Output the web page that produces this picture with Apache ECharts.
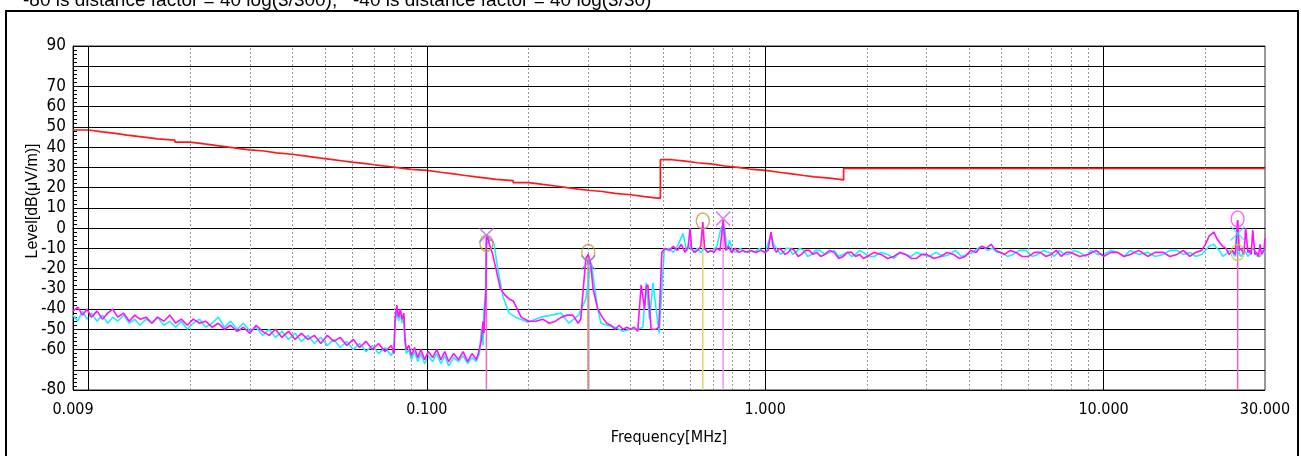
<!DOCTYPE html>
<html><head><meta charset="utf-8">
<script src="https://cdn.jsdelivr.net/npm/echarts@6/dist/echarts.min.js"></script>
<style>html,body{margin:0;padding:0;background:#fff}#c{width:1301px;height:456px}</style>
</head><body><div id="c"></div>
<script>
const noteText = '-80 is distance factor = 40 log(3/300);   -40 is distance factor = 40 log(3/30)';
const xName = 'Frequency[MHz]';
const yName = 'Level[dB(\u03bcV/m)]';
const xTickValues = [0.009, 0.1, 1, 10, 30];
const xTickLabels = ['0.009', '0.100', '1.000', '10.000', '30.000'];
const xMajorGrid = [0.01, 0.1, 1, 10];
const xMinorGrid = [0.02,0.03,0.04,0.05,0.06,0.07,0.08,0.09,0.2,0.3,0.4,0.5,0.6,0.7,0.8,0.9,2,3,4,5,6,7,8,9,20];
const yLabelValues = [90,70,60,50,40,30,20,10,0,-10,-20,-30,-40,-50,-60,-80];

const limitLine = [
[0.009,48.5],[0.010,47.6],[0.011,46.8],[0.012,46.0],[0.013,45.3],[0.014,44.7],[0.015,44.1],[0.016,43.5],
[0.018,42.5],[0.020,41.6],[0.022,40.8],[0.024,40.0],[0.026,39.3],[0.028,38.7],[0.030,38.1],[0.033,37.2],
[0.036,36.5],[0.040,35.6],[0.044,34.7],[0.048,34.0],[0.052,33.3],[0.056,32.6],[0.060,32.0],[0.065,31.3],
[0.070,30.7],[0.075,30.1],[0.080,29.5],[0.085,29.0],[0.090,28.5],[0.100,27.6],[0.110,26.8],[0.120,26.0],
[0.130,25.3],[0.140,24.7],[0.150,24.1],[0.160,23.5],[0.180,22.5],[0.200,21.6],[0.220,20.8],[0.240,20.0],
[0.260,19.3],[0.280,18.7],[0.300,18.1],[0.330,17.2],[0.360,16.5],[0.400,15.6],[0.440,14.7],[0.490,13.8],
[0.490,33.8],[0.530,33.1],[0.580,32.3],[0.630,31.6],[0.700,30.7],[0.760,30.0],[0.830,29.2],[0.900,28.5],
[1.000,27.6],[1.100,26.8],[1.200,26.0],[1.300,25.3],[1.400,24.7],[1.550,23.8],[1.705,23.0],[1.705,29.5],[30,29.5]
];

const traceCyan = [
[0.0090,-43],[0.0093,-46],[0.0096,-41],[0.0099,-45],[0.0102,-42],[0.0106,-46],[0.0110,-43],[0.0114,-47],
[0.0118,-44],[0.0122,-46],[0.0127,-43],[0.0132,-47],[0.0137,-45],[0.0142,-48],[0.0148,-45],[0.0154,-47],
[0.0160,-44],[0.0167,-48],[0.0174,-46],[0.0181,-49],[0.0188,-46],[0.0196,-50],[0.0204,-47],[0.0213,-45],
[0.0222,-49],[0.0232,-47],[0.0242,-44],[0.0252,-49],[0.0263,-46],[0.0275,-50],[0.0287,-47],[0.0300,-51],
[0.0313,-49],[0.0327,-53],[0.0342,-50],[0.0357,-54],[0.0373,-51],[0.0390,-55],[0.0408,-52],[0.0426,-56],
[0.0445,-53],[0.0465,-57],[0.0486,-54],[0.0508,-58],[0.0531,-55],[0.0555,-59],[0.0580,-56],[0.0606,-60],
[0.0633,-57],[0.0661,-61],[0.0690,-58],[0.0720,-62],[0.0752,-59],[0.0785,-63],[0.0800,-60],[0.0805,-47],
[0.0815,-41],[0.0825,-46],[0.0835,-42],[0.0845,-47],[0.0855,-44],[0.0862,-57],[0.0870,-62],[0.0885,-60],
[0.0900,-65],[0.0920,-61],[0.0940,-66],[0.0960,-62],[0.0985,-67],[0.1010,-63],[0.1040,-66],[0.1070,-62],
[0.1100,-67],[0.1130,-63],[0.1160,-68],[0.1200,-64],[0.1240,-66],[0.1280,-63],[0.1320,-67],[0.1360,-64],
[0.1400,-66],[0.1430,-62],[0.1450,-50],[0.1465,-58],[0.1475,-40],[0.1485,-36],[0.1495,-30],[0.1500,-8],
[0.1530,-6],[0.1560,-6],[0.1580,-8],[0.1620,-20],[0.1680,-34],[0.1750,-42],[0.1830,-44],[0.1990,-46.5],
[0.2170,-44],[0.2330,-43],[0.2490,-42],[0.2630,-47],[0.2810,-43],[0.2950,-35],[0.3000,-26],[0.3060,-17],
[0.3120,-27],[0.3200,-40],[0.3270,-47],[0.3400,-48],[0.3600,-49],[0.3800,-51],[0.4000,-50],[0.4200,-50],
[0.4350,-49],[0.4450,-27],[0.4550,-45],[0.4660,-27],[0.4760,-40],[0.4860,-52],[0.5030,-11],[0.5200,-10],
[0.5350,-12],[0.5500,-9],[0.5720,-2.6],[0.5850,-11],[0.6000,-9],[0.6150,-12],[0.6300,-10],[0.6450,-12],
[0.6600,-10],[0.6800,-12],[0.7000,-11],[0.7200,-9],[0.7400,0],[0.7510,1.4],[0.7600,-1],[0.7700,-11],
[0.7850,-6],[0.8000,-11],[0.8200,-12],[0.8450,-10],[0.8700,-12],[0.9000,-11],[0.9300,-12],[0.9600,-10],
[1.000,-12],[1.040,-3],[1.060,-8],[1.090,-11],[1.110,-13],[1.130,-12],[1.155,-10],[1.180,-10],[1.205,-13],
[1.230,-12],[1.265,-10],[1.300,-11],[1.335,-14],[1.370,-13],[1.410,-11],[1.450,-11],[1.500,-13],[1.550,-12],
[1.600,-11],[1.650,-14],[1.700,-13],[1.750,-12],[1.800,-14],[1.850,-13],[1.900,-11],[1.950,-12],[2.020,-14],
[2.100,-14],[2.200,-12],[2.300,-13],[2.400,-15],[2.500,-12],[2.600,-13],[2.700,-14],[2.800,-12],[2.900,-13],
[3.050,-14],[3.200,-12],[3.350,-14],[3.500,-13],[3.650,-11],[3.800,-14],[3.950,-13],[4.100,-12],[4.250,-10],
[4.400,-9],[4.550,-11],[4.700,-10],[4.850,-12],[5.000,-12],[5.200,-14],[5.400,-13],[5.650,-11],[5.900,-11],
[6.150,-14],[6.400,-13],[6.650,-11],[6.900,-12],[7.150,-14],[7.400,-11],[7.650,-13],[7.900,-13],[8.200,-11],
[8.500,-12],[8.850,-14],[9.200,-11],[9.600,-13],[10.00,-13],[10.50,-11],[11.00,-12],[11.50,-14],[12.00,-11],
[12.70,-13],[13.50,-12],[14.20,-14],[15.00,-13],[15.70,-11],[16.50,-11],[17.20,-13],[18.00,-12],[18.70,-14],
[19.50,-13],[20.00,-11],[20.50,-9],[21.20,-8],[21.600,-10],[22.00,-11],[22.50,-14],[23.00,-13],[23.50,-11],
[24.00,-12],[24.50,-14],[24.90,-3],[25.20,-13],[25.50,-14],[26.00,-11],[26.30,-12],[26.70,-14],[27.00,-13],
[27.50,-10],[28.00,-11],[28.50,-14],[29.00,-14],[29.50,-11],[30.00,-12]
];

const traceMagenta = [
[0.0090,-41],[0.0093,-39],[0.0096,-43],[0.0099,-40],[0.0102,-44],[0.0106,-41],[0.0110,-45],[0.0114,-42],
[0.0118,-40],[0.0122,-44],[0.0127,-42],[0.0132,-46],[0.0137,-43],[0.0142,-45],[0.0148,-44],[0.0154,-47],
[0.0160,-44],[0.0167,-46],[0.0174,-43],[0.0181,-47],[0.0188,-45],[0.0196,-48],[0.0204,-45],[0.0213,-47],
[0.0222,-46],[0.0232,-49],[0.0242,-47],[0.0252,-50],[0.0263,-48],[0.0275,-51],[0.0287,-49],[0.0300,-52],
[0.0313,-48],[0.0327,-51],[0.0342,-53],[0.0357,-50],[0.0373,-54],[0.0390,-51],[0.0408,-55],[0.0426,-52],
[0.0445,-55],[0.0465,-53],[0.0486,-57],[0.0508,-53],[0.0531,-56],[0.0555,-54],[0.0580,-58],[0.0606,-55],
[0.0633,-59],[0.0661,-56],[0.0690,-60],[0.0720,-57],[0.0752,-61],[0.0785,-58],[0.0800,-62],[0.0805,-46],
[0.0815,-38],[0.0825,-44],[0.0835,-40],[0.0845,-45],[0.0855,-42],[0.0862,-55],[0.0870,-60],[0.0885,-58],
[0.0900,-63],[0.0920,-59],[0.0940,-64],[0.0960,-60],[0.0985,-65],[0.1010,-61],[0.1040,-64],[0.1070,-60],
[0.1100,-65],[0.1130,-61],[0.1160,-66],[0.1200,-62],[0.1240,-65],[0.1280,-61],[0.1320,-66],[0.1360,-62],
[0.1400,-65],[0.1430,-60],[0.1450,-55],[0.1465,-46],[0.1475,-52],[0.1485,-40],[0.1495,-30],[0.1500,-5],
[0.1510,-4],[0.1530,-8],[0.1560,-12],[0.1600,-20],[0.1650,-30],[0.1700,-33],[0.1750,-35],[0.1800,-36],
[0.1850,-40],[0.1900,-44],[0.1950,-45],[0.2000,-46],[0.2100,-46],[0.2200,-45],[0.2300,-47],[0.2400,-46],
[0.2500,-44],[0.2600,-43],[0.2700,-43],[0.2800,-47],[0.2850,-45],[0.2900,-30],[0.2950,-15],[0.3000,-13],
[0.3050,-18],[0.3100,-30],[0.3200,-40],[0.3300,-44],[0.3400,-47],[0.3500,-48],[0.3600,-50],[0.3700,-48],
[0.3800,-50],[0.3900,-49],[0.4000,-50],[0.4100,-49],[0.4200,-51],[0.4300,-28],[0.4350,-28],[0.4400,-40],
[0.4450,-29],[0.4500,-28],[0.4600,-50],[0.4750,-50],[0.4850,-49],[0.4950,-12],[0.5050,-10],[0.5200,-11],
[0.5350,-9],[0.5500,-11],[0.5650,-8],[0.5800,-12],[0.5920,-9],[0.6000,0],[0.6060,-10],[0.6180,-12],
[0.6320,-11],[0.6450,-9],[0.6540,3],[0.6620,-10],[0.6750,-12],[0.6900,-11],[0.7050,-12],[0.7200,-10],
[0.7350,-11],[0.7450,-2],[0.7510,4],[0.7570,-3],[0.7650,-11],[0.7800,-9],[0.7950,-12],[0.8150,-10],
[0.8350,-12],[0.8600,-11],[0.8850,-12],[0.9100,-11],[0.9400,-12],[0.9700,-11],[1.000,-12],[1.020,-11],
[1.040,-2],[1.055,-9],[1.080,-12],[1.100,-10],[1.120,-11],[1.145,-13],[1.170,-12],[1.195,-10],[1.220,-11],
[1.250,-14],[1.280,-13],[1.315,-11],[1.350,-11],[1.385,-13],[1.420,-12],[1.460,-14],[1.500,-13],[1.550,-11],
[1.600,-12],[1.650,-15],[1.700,-14],[1.750,-12],[1.800,-12],[1.850,-14],[1.900,-13],[1.950,-15],[2.000,-14],
[2.100,-12],[2.200,-13],[2.300,-15],[2.400,-14],[2.500,-12],[2.600,-13],[2.700,-15],[2.800,-15],[2.900,-13],
[3.000,-13],[3.150,-15],[3.300,-14],[3.450,-12],[3.600,-13],[3.750,-15],[3.900,-14],[4.050,-11],[4.200,-12],
[4.350,-9],[4.500,-10],[4.650,-8],[4.800,-11],[4.950,-12],[5.100,-13],[5.300,-11],[5.500,-12],[5.750,-14],
[6.000,-14],[6.250,-12],[6.500,-12],[6.750,-14],[7.000,-13],[7.250,-11],[7.500,-14],[7.750,-12],[8.000,-12],
[8.500,-14],[9.000,-13],[9.500,-11],[10.00,-14],[10.50,-12],[11.00,-12],[11.50,-14],[12.00,-13],[12.70,-11],
[13.50,-14],[14.20,-12],[15.00,-12],[15.70,-14],[16.50,-13],[17.20,-11],[18.00,-14],[18.70,-12],[19.50,-11],
[20.00,-8],[20.50,-4],[21.20,-2],[21.60,-5],[22.00,-7],[22.50,-9],[23.00,-10],[23.50,-13],[24.00,-11],
[24.50,-13],[24.90,4],[25.20,-11],[25.50,-10],[26.00,-13],[26.30,0],[26.70,-12],[27.00,-11],[27.30,-13],
[27.60,-1],[28.00,-13],[28.30,-12],[28.70,-14],[29.00,-8],[29.30,-13],[29.50,-13],[29.80,-11],[30.00,-5]
];

const peakCircles = [[0.15,-7.5],[0.3,-12],[0.654,3.5],[24.9,-12],[24.9,4.5]];
const peakCrosses = [[0.15,-3.5],[0.3,-17],[0.751,4.7],[24.9,-2.7]];
const markerLines = [[0.15,-5],[0.299,-13],[0.301,-15],[0.654,3],[0.751,4],[24.9,4]];

const circleColors = ['#c8963c','#c8963c','#c8963c','#d4cc30','#ff40ff'];
const crossColors = ['#c060f0','#7a7aff','#d060f0','#40d8f0'];
const markerLineColors = ['#e070c8','#d8b070','#f080c0','#d8d870','#f090f0','#f060c0'];

const narrow = "'Liberation Sans Narrow','DejaVu Sans Condensed',sans-serif";
const chart = echarts.init(document.getElementById('c'), null, {renderer: 'canvas'});

function nearestLabel(v) {
  let best = 0, bd = Infinity;
  xTickValues.forEach((t, i) => { const d = Math.abs(Math.log10(v) - Math.log10(t)); if (d < bd) { bd = d; best = i; } });
  return bd < 0.01 ? xTickLabels[best] : '';
}

const series = [];
series.push({
  type: 'line', data: [], silent: true,
  markLine: {
    silent: true, symbol: 'none', animation: false, label: {show: false},
    lineStyle: {color: '#999', width: 1, type: [2, 2]},
    data: xMinorGrid.map(v => ({xAxis: v}))
  }
});
series.push({
  type: 'line', data: [], silent: true,
  markLine: {
    silent: true, symbol: 'none', animation: false, label: {show: false},
    lineStyle: {color: '#000', width: 1, type: 'solid'},
    data: xMajorGrid.map(v => ({xAxis: v}))
  }
});
series.push({
  type: 'line', data: limitLine, step: 'end', showSymbol: false, silent: true,
  lineStyle: {color: '#ff1a1a', width: 1.7}, z: 3
});
markerLines.forEach((m, i) => {
  series.push({
    type: 'line', data: [[m[0], m[1]], [m[0], -80]], showSymbol: false, silent: true,
    lineStyle: {color: markerLineColors[i], width: 1.5}, z: 2
  });
});
series.push({
  type: 'line', data: traceCyan, showSymbol: false, silent: true,
  lineStyle: {color: '#18f0ff', width: 1.6}, z: 4
});
series.push({
  type: 'line', data: traceMagenta, showSymbol: false, silent: true,
  lineStyle: {color: '#ff10ff', width: 1.6}, z: 5
});
series.push({
  type: 'scatter', silent: true, z: 6, symbol: 'circle', symbolSize: [13, 16],
  data: peakCircles.map((p, i) => ({value: p, itemStyle: {color: 'rgba(0,0,0,0)', borderColor: circleColors[i], borderWidth: 1.5}}))
});
series.push({
  type: 'scatter', silent: true, z: 6, symbol: 'path://M0 0L10 10M10 0L0 10', symbolSize: 14,
  data: peakCrosses.map((p, i) => ({value: p, itemStyle: {color: 'rgba(0,0,0,0)', borderColor: crossColors[i], borderWidth: 1.5}}))
});

chart.setOption({
  animation: false,
  backgroundColor: '#fff',
  graphic: [
    {type: 'rect', shape: {x: 6, y: 11, width: 1292, height: 470}, style: {fill: 'none', stroke: '#000', lineWidth: 2}, silent: true},
    {type: 'text', x: 23, y: 10, style: {text: noteText, font: "19px 'Liberation Sans',Arial,sans-serif", fill: '#000', verticalAlign: 'bottom', align: 'left'}, silent: true}
  ],
  grid: {left: 73, right: 36, top: 46, bottom: 66, show: true, borderColor: '#333', borderWidth: 1, containLabel: false},
  xAxis: {
    type: 'log', logBase: 10, min: 0.009, max: 30,
    name: xName, nameLocation: 'middle', nameGap: 40, nameMoveOverlap: false,
    nameTextStyle: {fontFamily: narrow, fontSize: 16, color: '#000'},
    axisLine: {show: true, lineStyle: {color: '#000', width: 1}},
    axisTick: {show: false},
    splitLine: {show: false},
    minorSplitLine: {show: false},
    axisLabel: {
      customValues: xTickValues,
      formatter: v => nearestLabel(v),
      fontFamily: narrow, fontSize: 16, color: '#000', margin: 12,
      showMinLabel: true, showMaxLabel: true
    }
  },
  yAxis: {
    type: 'value', min: -80, max: 90, interval: 10,
    name: yName, nameLocation: 'middle', nameGap: 32, nameMoveOverlap: false,
    nameTextStyle: {fontFamily: "'Liberation Sans',Arial,sans-serif", fontSize: 16, color: '#000', padding: [0, 0, 0, 34]},
    axisLine: {show: true, lineStyle: {color: '#000', width: 1}},
    axisTick: {show: true, inside: true, length: 5, lineStyle: {color: '#000'}},
    minorTick: {show: true, splitNumber: 5, length: 4, lineStyle: {color: '#000'}},
    splitLine: {show: true, lineStyle: {color: '#000', width: 1}},
    axisLabel: {
      formatter: v => (yLabelValues.indexOf(v) >= 0 ? String(v) : ''),
      fontFamily: narrow, fontSize: 17, color: '#000', margin: 7
    }
  },
  series: series
});
</script></body></html>
